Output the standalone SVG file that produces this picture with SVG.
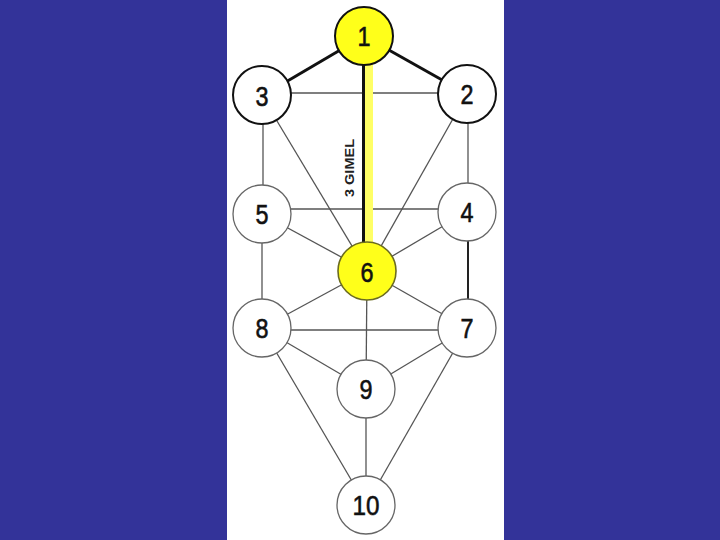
<svg xmlns="http://www.w3.org/2000/svg" width="720" height="540" viewBox="0 0 720 540">
<style>
.ln{stroke:#555;stroke-width:1.3;fill:none}
.bk{stroke:#111;stroke-width:3;fill:none}
.nd{fill:#fff;stroke:#666;stroke-width:1.3}
.nb{fill:#fff;stroke:#111;stroke-width:2}
.ny{fill:#ffff1a;stroke:#111;stroke-width:2}
.ny6{fill:#ffff1a;stroke:#6b6b20;stroke-width:1.6}
.t{font-family:"Liberation Sans",Arial,sans-serif;font-size:28px;fill:#111;stroke:#111;stroke-width:0.6;text-anchor:middle;dominant-baseline:central}
</style>
<rect x="0" y="0" width="720" height="540" fill="#333399"/>
<rect x="227" y="0" width="277" height="540" fill="#fff"/>
<g id="connectors">
<line class="ln" x1="262" y1="93" x2="467" y2="93"/>
<line class="ln" x1="263" y1="96" x2="263" y2="214"/>
<line class="ln" x1="468" y1="94" x2="468" y2="212"/>
<line class="ln" x1="262" y1="96" x2="367" y2="271"/>
<line class="ln" x1="467" y1="94" x2="367" y2="271"/>
<line class="ln" x1="262" y1="209" x2="467" y2="209"/>
<line class="ln" x1="262" y1="214" x2="367" y2="271"/>
<line class="ln" x1="467" y1="212" x2="367" y2="271"/>
<line class="ln" x1="262" y1="214" x2="262" y2="328"/>
<line stroke="#222" stroke-width="2" x1="468" y1="212" x2="468" y2="328"/>
<line class="ln" x1="367" y1="271" x2="262" y2="328"/>
<line class="ln" x1="367" y1="271" x2="467" y2="328"/>
<line class="ln" x1="367" y1="271" x2="366" y2="389"/>
<line class="ln" x1="262" y1="330" x2="467" y2="330"/>
<line class="ln" x1="262" y1="328" x2="366" y2="389"/>
<line class="ln" x1="467" y1="328" x2="366" y2="389"/>
<line class="ln" x1="262" y1="328" x2="366" y2="505"/>
<line class="ln" x1="467" y1="328" x2="366" y2="505"/>
<line class="ln" x1="366" y1="389" x2="366" y2="505"/>
<line class="bk" x1="364" y1="36" x2="262" y2="96"/>
<line class="bk" x1="364" y1="36" x2="467" y2="94"/>
<rect x="365" y="60" width="8" height="184" fill="#ffff66"/>
<line class="bk" x1="363.5" y1="60" x2="363.5" y2="244"/>
<text x="350" y="168" transform="rotate(-90 350 168)" font-family="'Liberation Sans',Arial,sans-serif" font-size="12" font-weight="bold" fill="#222" text-anchor="middle" dominant-baseline="central" textLength="58" lengthAdjust="spacingAndGlyphs">3 GIMEL</text>
</g>
<g id="n1"><circle class="ny" cx="364" cy="36" r="29"/><text class="t" x="364" y="36" textLength="13" lengthAdjust="spacingAndGlyphs">1</text></g>
<g id="n3"><circle class="nb" cx="262" cy="95" r="29"/><text class="t" x="262" y="96" textLength="13" lengthAdjust="spacingAndGlyphs">3</text></g>
<g id="n2"><circle class="nb" cx="467" cy="94" r="29"/><text class="t" x="467" y="94" textLength="13" lengthAdjust="spacingAndGlyphs">2</text></g>
<g id="n5"><circle class="nd" cx="262" cy="214" r="29"/><text class="t" x="262" y="214" textLength="13" lengthAdjust="spacingAndGlyphs">5</text></g>
<g id="n4"><circle class="nd" cx="467" cy="212" r="29"/><text class="t" x="467" y="212" textLength="13" lengthAdjust="spacingAndGlyphs">4</text></g>
<g id="n6"><circle class="ny6" cx="367" cy="271" r="29"/><text class="t" x="367" y="272" textLength="13" lengthAdjust="spacingAndGlyphs">6</text></g>
<g id="n8"><circle class="nd" cx="262" cy="328" r="29"/><text class="t" x="262" y="328" textLength="13" lengthAdjust="spacingAndGlyphs">8</text></g>
<g id="n7"><circle class="nd" cx="467" cy="328" r="29"/><text class="t" x="467" y="328" textLength="13" lengthAdjust="spacingAndGlyphs">7</text></g>
<g id="n9"><circle class="nd" cx="366" cy="389" r="29"/><text class="t" x="366" y="389" textLength="13" lengthAdjust="spacingAndGlyphs">9</text></g>
<g id="n10"><circle class="nd" cx="366" cy="505" r="29"/><text class="t" x="366" y="505" textLength="27" lengthAdjust="spacingAndGlyphs">10</text></g>
</svg>
